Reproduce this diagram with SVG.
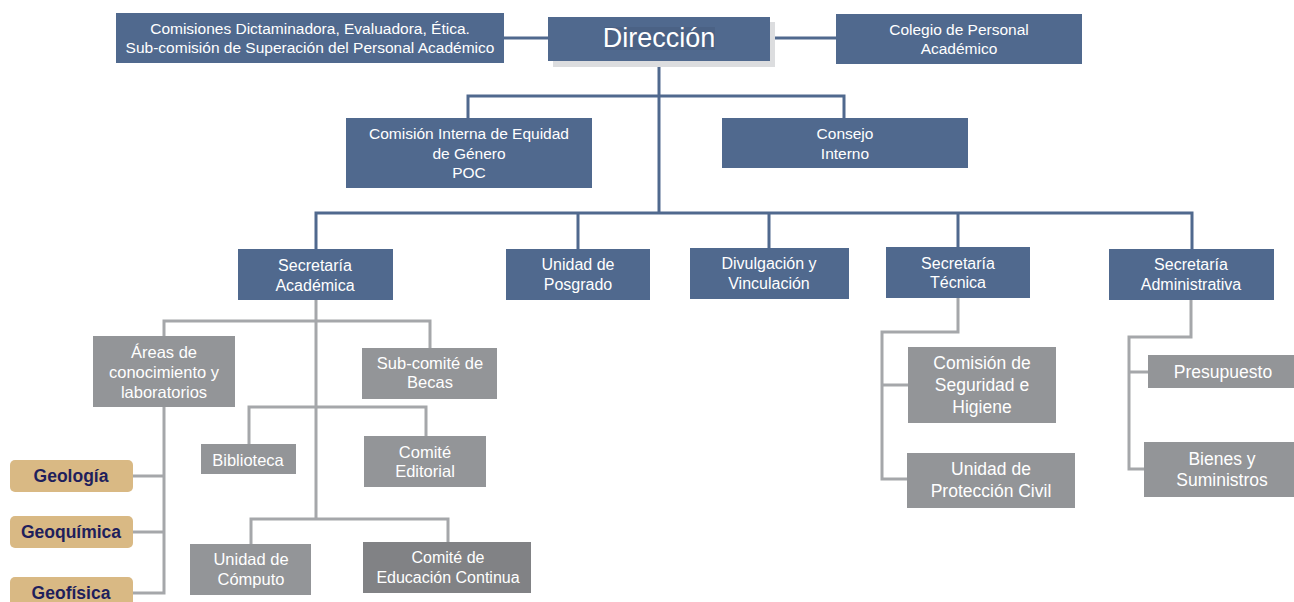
<svg xmlns="http://www.w3.org/2000/svg" width="1294" height="602" viewBox="0 0 1294 602">
<style>
.b{fill:#50698e}
.g{fill:#939598}
.gd{fill:#818285}
.t{fill:#d9b984}
.w{fill:#ffffff;font-family:"Liberation Sans",Arial,sans-serif;text-anchor:middle;dominant-baseline:central}
.f15{font-size:15.5px}
.f16{font-size:16px}
.f16b{font-size:16.5px}
.f17{font-size:17.5px}
.geo{fill:#1f1f5c;font-family:"Liberation Sans",Arial,sans-serif;font-weight:bold;font-size:17.5px;text-anchor:middle;dominant-baseline:central}
.cb{fill:none;stroke:#50698e;stroke-width:3}
.cg{fill:none;stroke:#a5a7aa;stroke-width:3}
</style>
<rect width="1294" height="602" fill="#ffffff"/>
<g id="connectors">
<path class="cb" d="M504 38H548M770 38H836"/>
<path class="cb" d="M659 61V213"/>
<path class="cb" d="M468 118V96H844V118"/>
<path class="cb" d="M316 249V213H1192V249M578 213V249M769 213V248M958 213V247"/>
<path class="cg" d="M958 298V332H882V479H907M882 385H908"/>
<path class="cg" d="M1191 300V337H1129V469H1144M1129 372H1148"/>
<path class="cg" d="M316 299V519M164 336V321H430V348M249 444V407H426V436M251 544V519H448V542"/>
<path class="cg" d="M164 407V593H133M164 476H133M164 532H133"/>
</g>
<g id="comisiones"><rect class="b" x="116" y="13" width="388" height="50"/><text class="w f15" x="310" y="28">Comisiones Dictaminadora, Evaluadora, Ética.</text><text class="w f15" x="310" y="47">Sub-comisión de Superación del Personal Académico</text></g>
<g id="direccion"><rect x="553" y="22" width="222" height="45" fill="#dcdddf"/><rect class="b" x="548" y="17" width="222" height="44"/><rect x="604" y="27" width="111" height="23" fill="#4b6285"/><text class="w" x="659" y="38" font-size="27">Dirección</text></g>
<g id="colegio"><rect class="b" x="836" y="14" width="246" height="50"/><text class="w f15" x="959" y="29">Colegio de Personal</text><text class="w f15" x="959" y="48">Académico</text></g>
<g id="equidad"><rect class="b" x="346" y="118" width="246" height="70"/><text class="w f15" x="469" y="133">Comisión Interna de Equidad</text><text class="w f15" x="469" y="153">de Género</text><text class="w f15" x="469" y="172">POC</text></g>
<g id="consejo"><rect class="b" x="722" y="118" width="246" height="50"/><text class="w f15" x="845" y="133">Consejo</text><text class="w f15" x="845" y="153">Interno</text></g>
<g id="sec-academica"><rect class="b" x="238" y="249" width="155" height="51"/><text class="w f16" x="315" y="265">Secretaría</text><text class="w f16" x="315" y="285">Académica</text></g>
<g id="posgrado"><rect class="b" x="506" y="249" width="144" height="51"/><text class="w f16" x="578" y="264">Unidad de</text><text class="w f16" x="578" y="284">Posgrado</text></g>
<g id="divulgacion"><rect class="b" x="690" y="248" width="159" height="51"/><text class="w f16" x="769" y="263">Divulgación y</text><text class="w f16" x="769" y="283">Vinculación</text></g>
<g id="sec-tecnica"><rect class="b" x="886" y="247" width="144" height="51"/><text class="w f16" x="958" y="263">Secretaría</text><text class="w f16" x="958" y="282">Técnica</text></g>
<g id="sec-administrativa"><rect class="b" x="1109" y="249" width="165" height="51"/><text class="w f16" x="1191" y="264">Secretaría</text><text class="w f16" x="1191" y="284">Administrativa</text></g>
<g id="areas"><rect class="g" x="93" y="336" width="142" height="71"/><text class="w f16b" x="164" y="352">Áreas de</text><text class="w f16b" x="164" y="372">conocimiento y</text><text class="w f16b" x="164" y="392">laboratorios</text></g>
<g id="becas"><rect class="g" x="362" y="348" width="135" height="51"/><text class="w f16b" x="430" y="363">Sub-comité de</text><text class="w f16b" x="430" y="382">Becas</text></g>
<g id="biblioteca"><rect class="g" x="201" y="444" width="95" height="30"/><text class="w f16b" x="248" y="460">Biblioteca</text></g>
<g id="editorial"><rect class="g" x="364" y="436" width="122" height="51"/><text class="w f16b" x="425" y="452">Comité</text><text class="w f16b" x="425" y="471">Editorial</text></g>
<g id="computo"><rect class="g" x="190" y="544" width="121" height="51"/><text class="w f16b" x="251" y="559">Unidad de</text><text class="w f16b" x="251" y="579">Cómputo</text></g>
<g id="educacion"><rect class="gd" x="363" y="542" width="168" height="51"/><text class="w f16" x="448" y="557">Comité de</text><text class="w f16" x="448" y="577">Educación Continua</text></g>
<g id="geologia"><rect class="t" x="10" y="460" width="123" height="32" rx="5"/><text class="geo" x="71" y="476">Geología</text></g>
<g id="geoquimica"><rect class="t" x="10" y="516" width="123" height="32" rx="5"/><text class="geo" x="71" y="532">Geoquímica</text></g>
<g id="geofisica"><rect class="t" x="10" y="577" width="123" height="34" rx="5"/><text class="geo" x="71" y="593">Geofísica</text></g>
<g id="seguridad"><rect class="g" x="908" y="347" width="148" height="76"/><text class="w f17" x="982" y="363">Comisión de</text><text class="w f17" x="982" y="385">Seguridad e</text><text class="w f17" x="982" y="407">Higiene</text></g>
<g id="proteccion"><rect class="g" x="907" y="453" width="168" height="55"/><text class="w f17" x="991" y="469">Unidad de</text><text class="w f17" x="991" y="491">Protección Civil</text></g>
<g id="presupuesto"><rect class="g" x="1148" y="355" width="146" height="33"/><text class="w f17" x="1223" y="372">Presupuesto</text></g>
<g id="bienes"><rect class="g" x="1144" y="442" width="150" height="55"/><text class="w f17" x="1222" y="459">Bienes y</text><text class="w f17" x="1222" y="480">Suministros</text></g>
</svg>
